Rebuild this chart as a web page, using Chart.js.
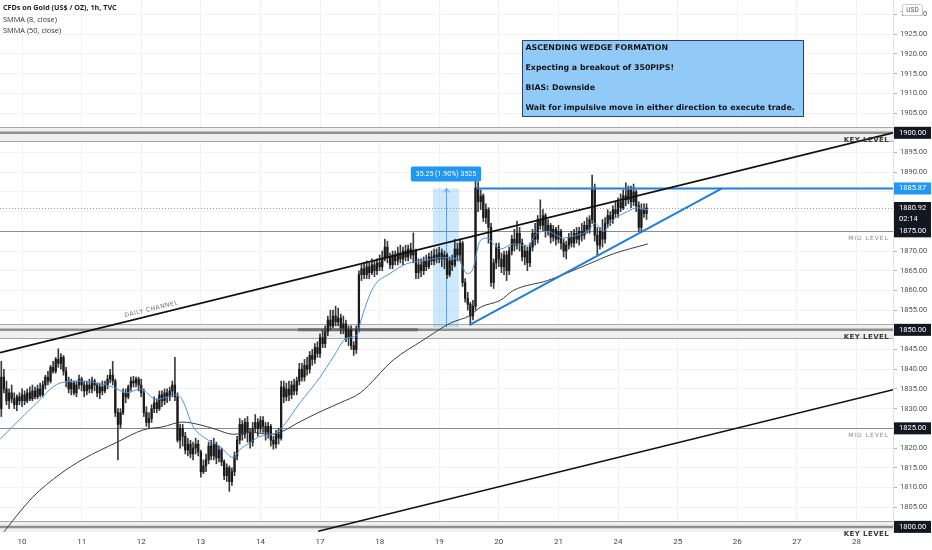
<!DOCTYPE html>
<html><head><meta charset="utf-8">
<script src="https://cdn.jsdelivr.net/npm/chart.js@4.4.0/dist/chart.umd.min.js"></script>
<style>html,body{margin:0;padding:0;background:#fff;overflow:hidden}canvas{display:block}</style>
</head><body>
<canvas id="c" width="932" height="550" style="width:932px;height:550px"></canvas>
<script>
// ---------- DATA ----------
const firstIndex = -8; // hour index of first candle (day "10" starts at 0, 23 hourly bars per day)
const dayStarts = [0,23,46,69,92,115,138,161,184,207,230,253,276,299,322];
const dayLabels = ['10','11','12','13','14','17','18','19','20','21','24','25','26','27','28'];
const priceTicks = [1800,1805,1810,1815,1820,1825,1830,1835,1840,1845,1850,1855,1860,1865,1870,1875,1880,1885,1890,1895,1900,1905,1910,1915,1920,1925,1930];

const opens = [1830,1838,1835,1832,1834,1832.5,1831,1833,
1832,1833.5,1832,1834,1832.5,1834.5,1833,1835,1833.5,1836,1838,1837,1840.5,1839.5,1842.5,1841.5,1843,1839.5,1837,1835,1836.5,1834,1836,
1837.5,1836,1834.5,1836,1835,1837,1836,1834,1835.5,1834.5,1836,1837.5,1838.5,1837,1829,1826,1829,1834,1833,1835.5,1837,1836.5,1837.5,
1836,1834,1829,1826.5,1827.5,1830,1831.5,1830,1833.5,1832,1834,1833,1834.5,1836,1833,1822,1825,1823,1819.5,1821,1818.5,1820,1821,
1819,1814,1815.5,1817,1820.5,1818,1821,1817.5,1819.5,1816.5,1813,1815,1811.5,1814,1818,1822,1826,1823.5,1826.5,1824,1821.5,1825,1826.5,
1825,1827,1825.5,1824,1825.5,1822,1821,1823.5,1822.5,1835.5,1833,1835,1833.5,1836,1834.5,1837,1840,1838,1841,1840,1843.5,1842.5,1845.5,
1844,1848,1846.5,1849.5,1852.5,1851,1853.5,1852,1853,1850.5,1851.5,1848,1850,1846,1845,1850,1864,1865.5,1864,1866,1864.5,1866.5,1865,
1867,1866,1868,1871,1868.5,1866.5,1869,1867.5,1869.5,1868,1870,1868.5,1870.5,1869,1870,1864.5,1866.5,1865,1867.5,1866,1868.5,1867.5,1869,
1868,1869.5,1868,1869,1864,1867.5,1866.5,1870.5,1869,1872,1862,1858,1856.5,1853.5,1856,1886,1882.5,1884,1878.5,1880.5,1876,1862,1867,
1871,1868,1866,1869,1865,1870,1873,1871.5,1874.5,1872,1868.5,1870,1867,1871,1874.5,1873,1878,1876.5,1879,1875,1876.5,1873.5,1875.5,
1873,1875,1872,1870,1871.5,1873.5,1872,1874.5,1873,1875,1874,1876.5,1875.5,1878,1886,1874,1871.5,1875,1873,1877,1879,1878,1880.5,
1879.5,1882.5,1881,1884,1883,1885.5,1882.5,1885,1881.5,1876,1880.5,1879.5];

const highs = [1842,1840,1837,1835,1836,1834,1833.5,1834,
1835,1834.5,1835,1835.5,1836,1835.5,1836,1836.5,1837,1838.5,1839.5,1841,1842,1843,1845.2,1844,1843.5,1840.5,1838,1837.5,1837,1837,1838.5,
1838,1837,1837,1837.5,1838,1837.5,1836.5,1836.5,1837,1837,1838.5,1840,1842,1837.5,1830,1830,1835,1835,1836,1838,1838.2,1838,1838,
1837.5,1835,1830.5,1829,1831,1833,1832.5,1834.5,1834.5,1835,1835,1835.5,1837,1843,1834,1826,1826,1824,1822.5,1822,1821.5,1822.5,1822,
1819.5,1817,1818.5,1821.5,1822,1822.5,1821.5,1820.5,1820,1817,1816,1815.5,1815,1819,1823,1827.5,1827,1827.5,1828,1825,1826.5,1828.5,1827.5,
1828,1828,1826.5,1826.5,1826,1823,1824.5,1825,1837,1837,1836.5,1837,1837,1837.5,1838,1841.5,1841.5,1842.5,1843,1844.5,1845,1846.5,1847,
1849,1850,1851,1853.5,1855,1855,1856,1855.5,1854,1853.5,1852.5,1851,1851,1847,1851,1865,1866.5,1867,1867.5,1867,1868,1867.5,1868,
1869,1870,1873,1872.5,1869.5,1870,1870,1871,1871.5,1871,1871.5,1871.5,1872,1874.6,1870.5,1868,1868,1868.5,1869,1869.5,1870,1870.5,1870.5,
1871,1870.5,1870,1869.5,1868.5,1869,1873,1872,1873,1872.5,1863,1859.5,1857,1857.5,1889.3,1887.5,1885.5,1884.5,1882,1881,1877,1868,1872,
1872,1869.5,1870,1870,1871,1874,1875.5,1877.6,1876,1873,1871.5,1871,1872,1875.5,1877,1879,1883,1880.5,1879.5,1878,1877,1876.5,1876,
1876.5,1875.5,1873,1872.5,1874.5,1875,1875.5,1876,1876,1877,1877.5,1878.5,1879,1889.3,1887,1876,1876,1878,1878.5,1880.5,1880,1881.5,1882.5,
1883.5,1884.5,1885.5,1887.3,1886.5,1886.5,1887,1885.5,1882.5,1882,1882,1882];

const lows = [1828,1834,1831,1830,1831.5,1830,1829.5,1831,
1830.5,1831,1831.5,1832,1832,1832.5,1832.5,1833,1833,1835,1836,1836.5,1839,1839,1840.5,1840,1838.5,1835.5,1834,1833.5,1833.5,1833,1835,
1834.5,1833,1833.5,1834,1834,1834.5,1833,1832.5,1833.5,1834,1835,1836.5,1836,1828,1817,1825,1828.5,1831.5,1832.5,1834.5,1835.5,1835.5,1834.5,
1833,1828,1825.5,1825,1826.5,1829,1829,1829.5,1830.5,1831,1831.5,1832,1833,1832,1821.5,1820,1820.5,1818.5,1818,1817.5,1817,1818.5,1818,
1812.6,1813.5,1814,1816,1817,1817,1816,1816.5,1815.5,1812,1811.5,1809,1810.5,1813,1817,1821,1822,1822.5,1821.5,1820,1820.5,1824,1823,
1824,1824,1822,1822.5,1820.5,1819.7,1820,1821,1822,1831.5,1832,1832,1832.5,1833.5,1833.5,1836,1837,1837,1838.5,1839,1841,1841.5,1843,
1843,1845.5,1845.5,1848.5,1850,1850.5,1851,1851,1849,1849,1847,1846,1845,1843.5,1844,1849.5,1862.5,1863,1863,1863,1864,1863.5,1864,
1865,1865,1867.5,1867,1865.5,1865.5,1866.5,1866.5,1867,1866.5,1867.5,1867.5,1868,1867,1863,1863,1863.5,1864,1865,1865.5,1866.5,1866.5,1867,
1867,1866,1865.5,1863,1863.5,1865,1866,1867.5,1867.5,1861,1857,1855,1851.2,1852.5,1855,1880,1880.5,1877.5,1877,1872,1861,1860.5,1865.5,
1866,1864.5,1864,1862.5,1864,1869,1870,1870.5,1870,1867.5,1866.5,1865,1866,1870,1871.5,1872,1875.5,1875,1873.5,1874,1872,1872.5,1871.5,
1872,1870.5,1868.5,1868,1870.5,1871,1871,1872,1871.5,1872.5,1873,1874.5,1874.5,1877,1872.5,1869,1870.5,1871,1872,1876,1876.5,1877,1878.5,
1878.5,1880,1880.5,1881.5,1882,1881,1881.5,1880,1875,1874.7,1878.5,1878];

const closes = [1838,1835,1832,1834,1832.5,1831,1833,1832,
1833.5,1832,1834,1832.5,1834.5,1833,1835,1833.5,1836,1838,1837,1840.5,1839.5,1842.5,1841.5,1843,1839.5,1837,1835,1836.5,1834,1836,1837.5,
1836,1834.5,1836,1835,1837,1836,1834,1835.5,1834.5,1836,1837.5,1838.5,1837,1829,1826,1829,1834,1833,1835.5,1837,1836.5,1837.5,1836,
1834,1829,1826.5,1827.5,1830,1831.5,1830,1833.5,1832,1834,1833,1834.5,1836,1833,1822,1825,1823,1819.5,1821,1818.5,1820,1821,1819,
1814,1815.5,1817,1820.5,1818,1821,1817.5,1819.5,1816.5,1813,1815,1811.5,1814,1818,1822,1826,1823.5,1826.5,1824,1821.5,1825,1826.5,1825,
1827,1825.5,1824,1825.5,1822,1821,1823.5,1822.5,1835.5,1833,1835,1833.5,1836,1834.5,1837,1840,1838,1841,1840,1843.5,1842.5,1845.5,1844,
1848,1846.5,1849.5,1852.5,1851,1853.5,1852,1853,1850.5,1851.5,1848,1850,1846,1845,1850,1864,1865.5,1864,1866,1864.5,1866.5,1865,1867,
1866,1868,1871,1868.5,1866.5,1869,1867.5,1869.5,1868,1870,1868.5,1870.5,1869,1870,1864.5,1866.5,1865,1867.5,1866,1868.5,1867.5,1869,1868,
1869.5,1868,1869,1864,1867.5,1866.5,1870.5,1869,1872,1862,1858,1856.5,1853.5,1856,1886,1882.5,1884,1878.5,1880.5,1876,1862,1867,1871,
1868,1866,1869,1865,1870,1873,1871.5,1874.5,1872,1868.5,1870,1867,1871,1874.5,1873,1878,1876.5,1879,1875,1876.5,1873.5,1875.5,1873,
1875,1872,1870,1871.5,1873.5,1872,1874.5,1873,1875,1874,1876.5,1875.5,1878,1886,1874,1871.5,1875,1873,1877,1879,1878,1880.5,1879.5,
1882.5,1881,1884,1883,1885.5,1882.5,1885,1881.5,1876,1880.5,1879.5,1880.92];

// SMMA (8, close)
const smma8X = [-8.5,4.2,14.7,22.4,35,40.5,45.6,52,56,59.8,61.8,66,71.4,76.4,81.5,84.2,88,91.9,96.9,99.6,107.3,115,120,125.5,129.3,130.5,135.5,142,148.6,154.8,161.4,168,171.8,173.7,176.8,179.5,181.9,184.6,189.6,195,198.8,202.7,208.9,212.7,218.1,221.2,224.3,228.2,233.6,237.5,239.8,241.5];
const smma8Y = [1822.2,1830.5,1836.5,1837,1835.5,1834,1835,1832.3,1833,1833.5,1832.3,1825.5,1822.2,1820.4,1817.6,1819.7,1821.4,1823,1823.5,1824.7,1831.5,1838,1843,1848,1848.6,1851.7,1860.7,1864.3,1866.8,1867.5,1868.3,1868,1864.3,1865,1872.6,1873.3,1871.8,1870.5,1871.8,1871.3,1874.6,1875,1873.3,1873.8,1875,1877,1875,1878,1880,1881,1880.6,1880.5];
// SMMA (50, close)
const smma50X = [-8.5,4.2,14.7,23.6,36.7,46.7,54.4,61.8,68.7,74.5,81.5,88,95.8,99.6,107.3,115,122.8,130.5,143.2,154.8,165.3,173,176.8,184.6,189.6,202.7,215.4,228.2,241.5];
const smma50Y = [1797.5,1807.6,1813.4,1817.2,1821.5,1824.6,1825.4,1826.6,1825.9,1824.8,1823.5,1824,1823.5,1824,1826.7,1829.2,1831.5,1834,1842.3,1847.4,1851.7,1853.7,1855.7,1857.5,1860,1862.5,1865.8,1869.3,1871.8];

// drawings
const channelUpperX = [-8.5, 336.1], channelUpperY = [1844.2, 1900];
const channelLowerX = [114.3, 336.1], channelLowerY = [1798.9, 1834.8];
const wedgeLowX = [172.9, 270.1], wedgeLowY = [1851.3, 1885.87];
const wedgeTopX = [175.6, 336.1], wedgeTopY = [1885.87, 1885.87];
const keyLevels = [1900, 1850, 1800];
const midLevels = [1875, 1825];
const lastPrice = 1880.92, lastTime = '02:14';
const resistance = 1885.87;
const measureX = [158.6, 168.6], measureY = [1850.62, 1885.87];
const measureText = '35.25 (1.90%) 3525';
const segment1850X = [106.5, 152.8];
const legendLines = ['CFDs on Gold (US$ / OZ), 1h, TVC', 'SMMA (8, close)', 'SMMA (50, close)'];
const noteLines = ['ASCENDING WEDGE FORMATION', 'Expecting a breakout of 350PIPS!', 'BIAS: Downside', 'Wait for impulsive move in either direction to execute trade.'];

// ---------- BUILD ----------
const pts = (xs, ys) => xs.map((x, i) => ({x, y: ys[i]}));
const wicks = highs.map((h, i) => ({x: firstIndex + i, y: [lows[i], h]}));
const bodies = opens.map((o, i) => ({x: firstIndex + i, y: [o, closes[i]]}));

function hLine(ctx, a, yy, color, w, dash) {
  ctx.save(); ctx.strokeStyle = color; ctx.lineWidth = w; if (dash) ctx.setLineDash(dash);
  ctx.beginPath(); ctx.moveTo(a.left, yy); ctx.lineTo(a.right, yy); ctx.stroke(); ctx.restore();
}
function rr(ctx, x, y, w, h, r) {
  ctx.beginPath(); ctx.moveTo(x + r, y); ctx.arcTo(x + w, y, x + w, y + h, r); ctx.arcTo(x + w, y + h, x, y + h, r);
  ctx.arcTo(x, y + h, x, y, r); ctx.arcTo(x, y, x + w, y, r); ctx.closePath();
}

const overlay = {
  id: 'overlay',
  beforeDatasetsDraw(chart) {
    const {ctx, chartArea: a, scales: {x, y}} = chart;
    ctx.save();
    ctx.beginPath(); ctx.rect(a.left, a.top, a.width, a.height); ctx.clip();
    for (const v of keyLevels) {
      const t = Math.round(y.getPixelForValue(v + 1.4)) + 0.5;
      const b = Math.round(y.getPixelForValue(v - 2.0)) + 0.5;
      ctx.fillStyle = '#efefef'; ctx.fillRect(a.left, t, a.width, b - t);
      hLine(ctx, a, t, '#a9a9a9', 1);
      hLine(ctx, a, b, '#a9a9a9', 1);
      hLine(ctx, a, y.getPixelForValue(v), '#8f8f8f', 2.5);
    }
    ctx.strokeStyle = '#6d6d6d'; ctx.lineWidth = 3;
    ctx.beginPath();
    ctx.moveTo(x.getPixelForValue(segment1850X[0]), y.getPixelForValue(1850));
    ctx.lineTo(x.getPixelForValue(segment1850X[1]), y.getPixelForValue(1850)); ctx.stroke();
    for (const v of midLevels) hLine(ctx, a, Math.round(y.getPixelForValue(v)) + 0.5, '#8c8c8c', 1);
    hLine(ctx, a, Math.round(y.getPixelForValue(lastPrice)) + 0.5, '#9a9a9a', 1, [1, 2]);
    const x0 = x.getPixelForValue(measureX[0]), x1 = x.getPixelForValue(measureX[1]);
    const yl = y.getPixelForValue(measureY[0]), yh = y.getPixelForValue(measureY[1]);
    ctx.fillStyle = 'rgba(33,150,243,0.22)'; ctx.fillRect(x0, yh, x1 - x0, yl - yh);
    const xc = Math.round((x0 + x1) / 2) + 0.5;
    ctx.strokeStyle = '#4aa3ee'; ctx.lineWidth = 1;
    ctx.beginPath(); ctx.moveTo(xc, yl); ctx.lineTo(xc, yh); ctx.moveTo(xc - 3, yh + 4); ctx.lineTo(xc, yh); ctx.lineTo(xc + 3, yh + 4); ctx.stroke();
    ctx.restore();
  },
  afterDatasetsDraw(chart) {
    const {ctx, chartArea: a, scales: {x, y}} = chart;
    ctx.save();
    ctx.beginPath(); ctx.rect(a.left, a.top, a.width, a.height + 5); ctx.clip();
    ctx.textAlign = 'right'; ctx.textBaseline = 'middle';
    ctx.font = 'bold 7px "DejaVu Sans"'; ctx.fillStyle = '#3a3a3a'; ctx.letterSpacing = '0.4px';
    for (const v of keyLevels) ctx.fillText('KEY LEVEL', a.right - 4, y.getPixelForValue(v) + 7);
    ctx.font = '6px "DejaVu Sans"'; ctx.fillStyle = '#8a8a8a'; ctx.letterSpacing = '1px';
    for (const v of midLevels) ctx.fillText('MID LEVEL', a.right - 4, y.getPixelForValue(v) + 7);
    const px0 = x.getPixelForValue(channelUpperX[0]), py0 = y.getPixelForValue(channelUpperY[0]);
    const px1 = x.getPixelForValue(channelUpperX[1]), py1 = y.getPixelForValue(channelUpperY[1]);
    const ang = Math.atan2(py1 - py0, px1 - px0);
    const tx = x.getPixelForValue(50.5);
    const ty = py0 + (tx - px0) * Math.tan(ang);
    ctx.translate(tx, ty); ctx.rotate(ang);
    ctx.textAlign = 'center'; ctx.textBaseline = 'bottom'; ctx.font = '6px "DejaVu Sans"'; ctx.fillStyle = '#6a6a6a'; ctx.letterSpacing = '0.6px';
    ctx.fillText('DAILY CHANNEL', 0, -3);
    ctx.restore();

    ctx.save();
    const mx = (x.getPixelForValue(measureX[0]) + x.getPixelForValue(measureX[1])) / 2;
    const my = y.getPixelForValue(measureY[1]);
    ctx.font = '7px Roboto'; ctx.letterSpacing = '0px';
    const tw = ctx.measureText(measureText).width + 10;
    ctx.fillStyle = '#2196f3'; rr(ctx, mx - tw / 2, my - 22, tw, 15, 2); ctx.fill();
    ctx.fillStyle = '#fff'; ctx.textAlign = 'center'; ctx.textBaseline = 'middle';
    ctx.fillText(measureText, mx, my - 14.5);
    const bx = 522.5, by = 40.5, bw = 281, bh = 76;
    ctx.fillStyle = '#91c9f7'; ctx.fillRect(bx, by, bw, bh);
    ctx.strokeStyle = '#26407a'; ctx.lineWidth = 1; ctx.strokeRect(bx, by, bw, bh);
    ctx.fillStyle = '#141414'; ctx.textAlign = 'left'; ctx.font = 'bold 7.85px "DejaVu Sans"';
    noteLines.forEach((t, i) => ctx.fillText(t, bx + 3, by + 7 + i * 20));
    ctx.restore();
  },
  afterDraw(chart) {
    const {ctx, chartArea: a, scales: {y}} = chart;
    ctx.save();
    ctx.textBaseline = 'middle'; ctx.textAlign = 'left'; ctx.font = '7.5px Roboto';
    const lx = a.right + 1, lw = chart.width - a.right - 2;
    const box = (v, bg, lines) => {
      const yy = y.getPixelForValue(v);
      const h = lines.length > 1 ? 24 : 12;
      ctx.fillStyle = bg; ctx.fillRect(lx, yy - 6, lw, h);
      ctx.fillStyle = '#fff';
      lines.forEach((t, i) => ctx.fillText(t, lx + 5, yy + i * 11));
    };
    keyLevels.concat(midLevels).forEach(v => box(v, '#131722', [v.toFixed(2)]));
    box(resistance, '#2196f3', [resistance.toFixed(2)]);
    box(lastPrice, '#131722', [lastPrice.toFixed(2), lastTime]);
    ctx.fillStyle = '#fff'; ctx.strokeStyle = '#c8c8c8'; rr(ctx, 902.5, 4.5, 20, 11, 2); ctx.fill(); ctx.stroke();
    ctx.fillStyle = '#555'; ctx.font = '6.5px Roboto'; ctx.textAlign = 'center'; ctx.fillText('USD', 912.5, 10.5);
    ctx.textAlign = 'left'; ctx.fillStyle = '#1e1e1e';
    ctx.font = 'bold 7.2px "Open Sans"'; ctx.fillText(legendLines[0], 3, 8);
    ctx.font = '7.4px "Open Sans"'; ctx.fillStyle = '#333';
    ctx.fillText(legendLines[1], 3, 19.5); ctx.fillText(legendLines[2], 3, 31);
    ctx.restore();
  }
};

new Chart(document.getElementById('c'), {
  type: 'bar',
  data: {
    datasets: [
      {type: 'line', data: pts(channelUpperX, channelUpperY), borderColor: '#111', borderWidth: 1.6, pointRadius: 0, order: 1},
      {type: 'line', data: pts(channelLowerX, channelLowerY), borderColor: '#111', borderWidth: 1.6, pointRadius: 0, order: 1},
      {type: 'line', data: pts(wedgeLowX, wedgeLowY), borderColor: '#1f7fd9', borderWidth: 2, pointRadius: 0, order: 1},
      {type: 'line', data: pts(wedgeTopX, wedgeTopY), borderColor: '#1f7fd9', borderWidth: 2, pointRadius: 0, order: 1},
      {type: 'line', data: pts(smma8X, smma8Y), borderColor: '#4a95e0', borderWidth: 1, pointRadius: 0, cubicInterpolationMode: 'monotone', order: 2},
      {type: 'line', data: pts(smma50X, smma50Y), borderColor: '#3c3c3c', borderWidth: 1, pointRadius: 0, cubicInterpolationMode: 'monotone', order: 3},
      {type: 'bar', data: bodies, backgroundColor: '#1a1a1a', barThickness: 1.6, grouped: false, minBarLength: 1, order: 4},
      {type: 'bar', data: wicks, backgroundColor: '#3a3a3a', barThickness: 1, grouped: false, order: 5}
    ]
  },
  options: {
    responsive: false, animation: false, events: [],
    layout: {padding: 0},
    plugins: {legend: {display: false}, tooltip: {enabled: false}},
    scales: {
      x: {
        type: 'linear', min: -8.5, max: 336.1, offset: false,
        afterBuildTicks: s => { s.ticks = dayStarts.map(v => ({value: v})); },
        afterFit: s => { s.height = 18; s.paddingLeft = 0; s.paddingRight = 0; },
        ticks: {autoSkip: false, maxRotation: 0, padding: 5, color: '#444', font: {family: 'Roboto', size: 8},
          callback: v => dayLabels[dayStarts.indexOf(v)]},
        grid: {color: '#f1f1f1', drawTicks: false, offset: false},
        border: {display: false}
      },
      y: {
        position: 'right', min: 1798.7, max: 1933.7,
        afterBuildTicks: s => { s.ticks = priceTicks.map(v => ({value: v})); },
        afterFit: s => { s.width = 39; s.paddingTop = 0; s.paddingBottom = 0; },
        ticks: {padding: 3, color: '#505050', font: {family: 'Roboto', size: 7.5}, callback: v => v.toFixed(2)},
        grid: {color: '#f3f3f3', tickLength: 4, tickColor: '#b0b0b0'},
        border: {color: '#e2e2e2'}
      }
    }
  },
  plugins: [overlay]
});
</script>
</body></html>
